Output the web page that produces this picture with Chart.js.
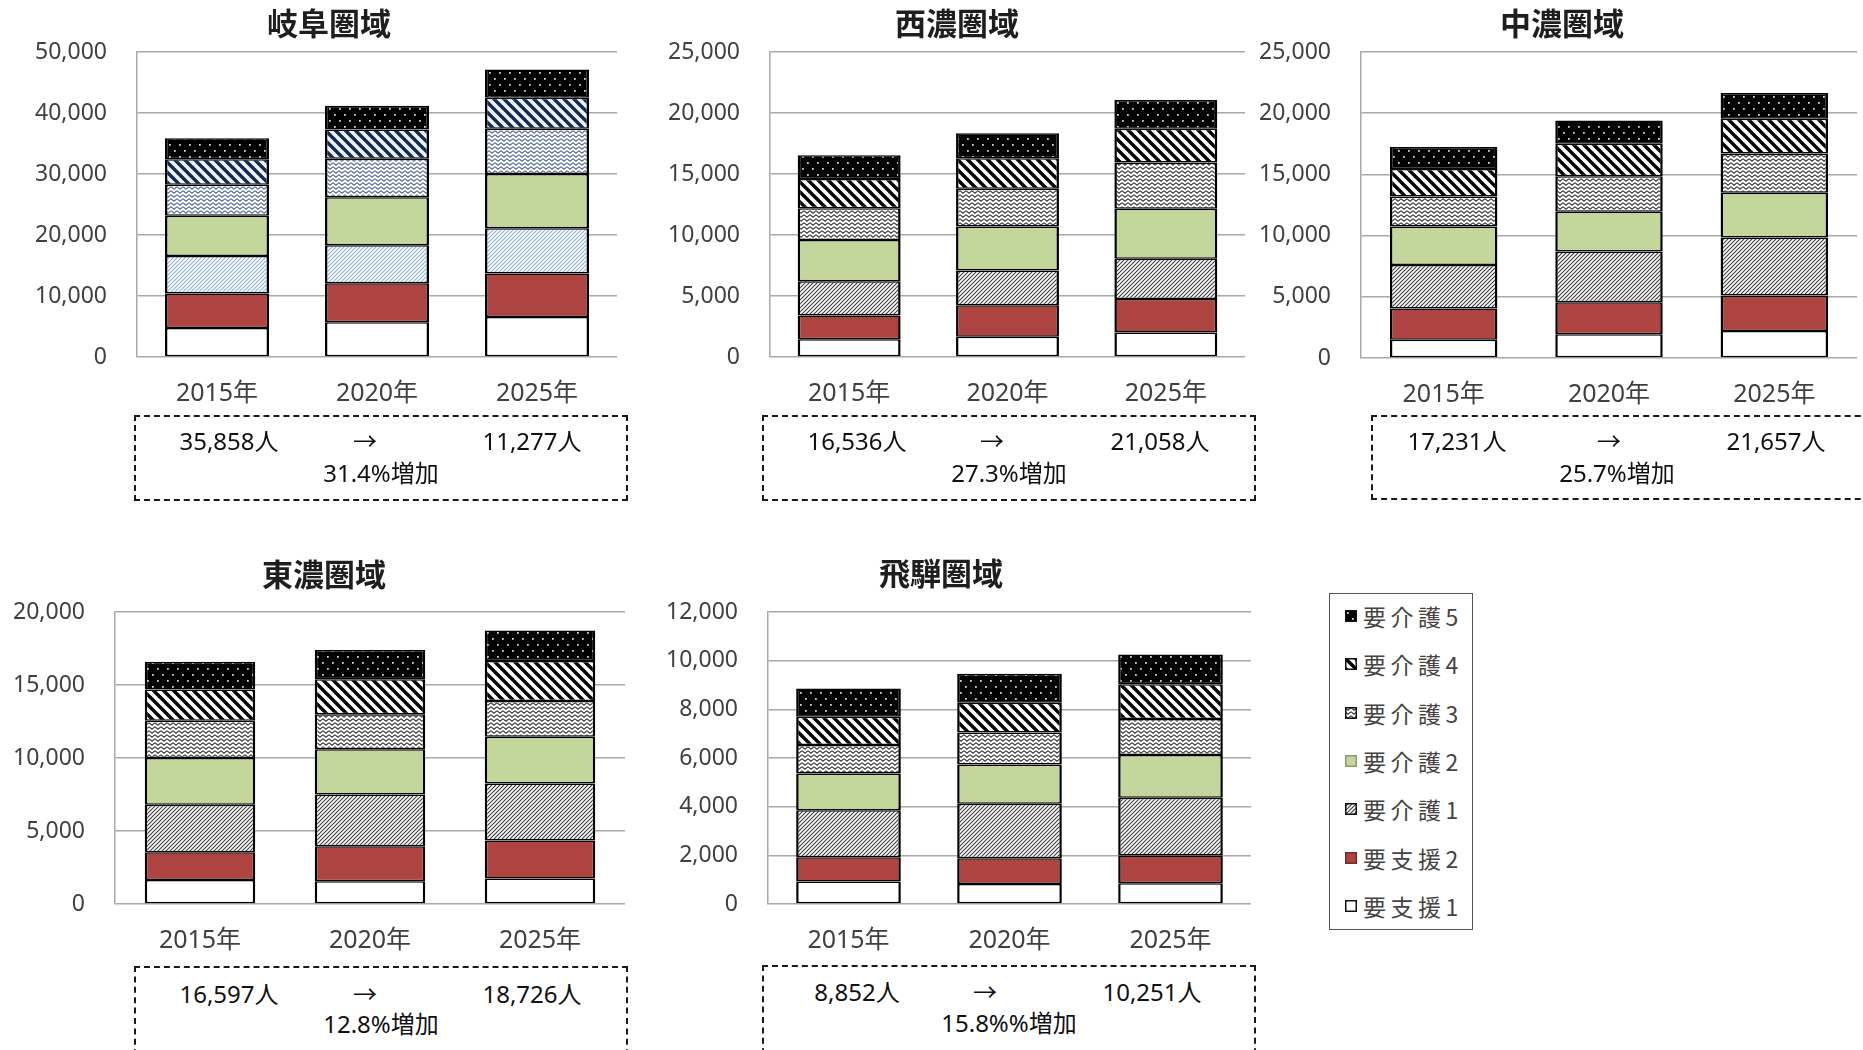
<!DOCTYPE html>
<html lang="ja">
<head>
<meta charset="utf-8">
<title>圏域別 要介護（要支援）認定者数の推移</title>
<script src="https://cdn.jsdelivr.net/npm/chart.js@4.4.1/dist/chart.umd.min.js"></script>
<style>
  html, body { margin: 0; padding: 0; background: #fff; }
  body { width: 1863px; height: 1050px; position: relative; overflow: hidden;
         font-family: "Noto Sans", "Noto Sans CJK JP", sans-serif; }
  canvas.plot { position: absolute; }
  .title { position: absolute; transform: translate(-50%, -50%); white-space: nowrap;
           font-family: "Noto Sans CJK JP", sans-serif; font-weight: 700; font-size: 31px; color: #1e1e1e; }
  .box { position: absolute; box-sizing: border-box; border: 2px dashed #1a1a1a; }
  .note { position: absolute; transform: translate(-50%, -50%); white-space: nowrap;
          font-family: "Noto Sans", "Noto Sans CJK JP", sans-serif; font-size: 24px; color: #111; }
  .legend { position: absolute; left: 1329px; top: 593px; width: 144px; height: 337px;
            box-sizing: border-box; border: 1.5px solid #555; background: #fff; }
  .legend .item { position: absolute; left: 0; display: flex; align-items: center; transform: translateY(-50%); }
  .legend canvas { display: block; margin-left: 15px; margin-right: 6px; }
  .legend span { font-family: "Noto Sans CJK JP", sans-serif; font-weight: 400; font-size: 23px;
                 letter-spacing: 4.5px; color: #444; white-space: nowrap; }
</style>
</head>
<body>
<script>
// ---- data -------------------------------------------------------------
const years = ['2015年', '2020年', '2025年'];
const careLevels = ['要支援1', '要支援2', '要介護1', '要介護2', '要介護3', '要介護4', '要介護5'];
const regionNames = ['岐阜圏域', '西濃圏域', '中濃圏域', '東濃圏域', '飛騨圏域'];

// 認定者数（人）  rows: careLevels, columns: years
const gifuCounts = [
  [4750, 5700, 6550],
  [5650, 6400, 7150],
  [6150, 6200, 7400],
  [6600, 7900, 8900],
  [5100, 6300, 7400],
  [4150, 4800, 5100],
  [3458, 3900, 4620]
];
const seinoCounts = [
  [1450, 1650, 2000],
  [1950, 2600, 2750],
  [2800, 2850, 3300],
  [3400, 3600, 4100],
  [2600, 3100, 3800],
  [2400, 2500, 2750],
  [1936, 2050, 2358]
];
const chunoCounts = [
  [1500, 1950, 2200],
  [2550, 2600, 2900],
  [3550, 4150, 4750],
  [3150, 3250, 3650],
  [2450, 2900, 3200],
  [2250, 2650, 2850],
  [1781, 1900, 2107]
];
const tonoCounts = [
  [1650, 1550, 1750],
  [1900, 2400, 2600],
  [3250, 3550, 3900],
  [3200, 3100, 3200],
  [2550, 2400, 2450],
  [2150, 2400, 2750],
  [1897, 2000, 2076]
];
const hidaCounts = [
  [920, 820, 850],
  [1000, 1060, 1140],
  [1930, 2240, 2380],
  [1510, 1610, 1750],
  [1170, 1320, 1480],
  [1170, 1220, 1430],
  [1152, 1190, 1221]
];

const axisMax = [50000, 25000, 25000, 20000, 12000];
const axisStep = [10000, 5000, 5000, 5000, 2000];

const fromTotals = ['35,858人', '16,536人', '17,231人', '16,597人', '8,852人'];
const toTotals = ['11,277人', '21,058人', '21,657人', '18,726人', '10,251人'];
const growthTexts = ['31.4%増加', '27.3%増加', '25.7%増加', '12.8%増加', '15.8%%増加'];

// ---- layout (page pixels) -----------------------------------------------
const regionCounts = [gifuCounts, seinoCounts, chunoCounts, tonoCounts, hidaCounts];
const panels = [
  { plot: { l: 137, r: 617, t: 52, b: 357 }, title: [329, 21], box: [134, 415, 494, 86],
    notes: [[229, 439], [365, 439], [532, 439], [381, 471]], tint: true },
  { plot: { l: 770, r: 1245, t: 52, b: 357 }, title: [957, 21], box: [762, 415, 494, 86],
    notes: [[857, 439], [992, 439], [1160, 439], [1009, 471]] },
  { plot: { l: 1361, r: 1857, t: 52, b: 358 }, title: [1562, 21], box: [1371, 415, 520, 85],
    notes: [[1457, 439], [1609, 439], [1776, 439], [1617, 471]] },
  { plot: { l: 115, r: 625, t: 612, b: 904 }, title: [324, 572], box: [134, 966, 494, 110],
    notes: [[229, 992], [365, 992], [532, 992], [381, 1022]] },
  { plot: { l: 768, r: 1251, t: 612, b: 904 }, title: [941, 571], box: [762, 965, 494, 110],
    notes: [[857, 990], [985, 990], [1152, 990], [1009, 1021]] }
];

// ---- fills --------------------------------------------------------------
function tile(w, h, paint) {
  const c = document.createElement('canvas');
  c.width = w; c.height = h;
  paint(c.getContext('2d'));
  return c;
}
function dotsTile() {
  return tile(10, 12, g => {
    g.fillStyle = '#000'; g.fillRect(0, 0, 10, 12);
    g.fillStyle = '#d0d0d0';
    g.fillRect(2, 2, 1.8, 1.8); g.fillRect(7, 8, 1.8, 1.8);
  });
}
function wideStripeTile(line, bg) {
  return tile(10, 10, g => {
    g.fillStyle = bg; g.fillRect(0, 0, 10, 10);
    g.strokeStyle = line; g.lineWidth = 3.4; g.lineCap = 'square';
    for (const k of [-10, 0, 10]) { g.beginPath(); g.moveTo(k - 2, -2); g.lineTo(k + 12, 12); g.stroke(); }
  });
}
function waveTile(line) {
  return tile(6, 4, g => {
    g.fillStyle = '#fff'; g.fillRect(0, 0, 6, 4);
    g.strokeStyle = line; g.lineWidth = 1.25;
    g.beginPath(); g.moveTo(0, 0.7); g.lineTo(3, 3.2); g.lineTo(6, 0.7); g.stroke();
  });
}
function fineStripeTile(line) {
  return tile(4, 4, g => {
    g.fillStyle = '#fff'; g.fillRect(0, 0, 4, 4);
    g.strokeStyle = line; g.lineWidth = 1.1;
    for (const k of [-4, 0, 4]) { g.beginPath(); g.moveTo(k - 1, 5); g.lineTo(k + 5, -1); g.stroke(); }
  });
}
function fillSet(ctx, tint) {
  const pat = t => ctx.createPattern(t, 'repeat');
  return [
    '#ffffff',
    '#ad4441',
    pat(fineStripeTile(tint ? '#8fb0da' : '#3a3a3a')),
    '#c3d69b',
    pat(waveTile(tint ? '#5d749e' : '#444444')),
    pat(wideStripeTile(tint ? '#142a52' : '#000000', tint ? '#eef4fb' : '#ffffff')),
    pat(dotsTile())
  ];
}

// keep the plot rectangle fixed: no extra room for overflowing tick labels
function noScalePadding(s) {
  s.paddingTop = 0; s.paddingBottom = 0; s.paddingLeft = 0; s.paddingRight = 0;
}

// ---- charts -------------------------------------------------------------
const Y_AXIS_W = 140, PAD_TOP = 30, X_AXIS_H = 60, PAD_RIGHT = 4;

panels.forEach((p, i) => {
  const left = p.plot.l - Y_AXIS_W;
  const top = p.plot.t - PAD_TOP;
  const W = p.plot.r - left + PAD_RIGHT;
  const H = p.plot.b + X_AXIS_H - top;
  const cv = document.createElement('canvas');
  cv.className = 'plot';
  cv.width = W; cv.height = H;
  cv.style.left = left + 'px'; cv.style.top = top + 'px';
  cv.style.width = W + 'px'; cv.style.height = H + 'px';
  document.body.appendChild(cv);
  const fills = fillSet(cv.getContext('2d'), !!p.tint);

  new Chart(cv, {
    type: 'bar',
    data: {
      labels: years,
      datasets: careLevels.map((lv, k) => ({
        label: lv,
        data: regionCounts[i][k],
        backgroundColor: fills[k],
        borderColor: '#000',
        borderWidth: { top: 1.5, bottom: 1.5, left: 2.5, right: 2.5 },
        borderSkipped: false,
        barPercentage: 0.65,
        categoryPercentage: 1
      }))
    },
    options: {
      responsive: false,
      animation: false,
      devicePixelRatio: 1,
      layout: { padding: { top: PAD_TOP, right: PAD_RIGHT, left: 0, bottom: 0 } },
      plugins: { legend: { display: false }, tooltip: { enabled: false }, title: { display: false } },
      scales: {
        x: {
          stacked: true,
          grid: { display: false },
          border: { display: false },
          ticks: { padding: 14, color: '#404040',
                   font: { family: '"Noto Sans", "Noto Sans CJK JP", sans-serif', size: 25 } },
          afterFit: s => { s.height = X_AXIS_H; noScalePadding(s); }
        },
        y: {
          stacked: true,
          min: 0,
          max: axisMax[i],
          ticks: { stepSize: axisStep[i], padding: 30, color: '#404040',
                   font: { family: '"Noto Sans", sans-serif', size: 23 },
                   callback: v => v.toLocaleString('en-US') },
          grid: { color: '#a8a8a8', lineWidth: 1.5, drawTicks: false },
          border: { display: true, color: '#a8a8a8', width: 1.5 },
          afterFit: s => { s.width = Y_AXIS_W; noScalePadding(s); }
        }
      }
    }
  });

  // title
  const t = document.createElement('div');
  t.className = 'title';
  t.textContent = regionNames[i];
  t.style.left = p.title[0] + 'px'; t.style.top = p.title[1] + 'px';
  document.body.appendChild(t);

  // dashed summary box
  const b = document.createElement('div');
  b.className = 'box';
  b.style.left = p.box[0] + 'px'; b.style.top = p.box[1] + 'px';
  b.style.width = p.box[2] + 'px'; b.style.height = p.box[3] + 'px';
  document.body.appendChild(b);

  [fromTotals[i], '→', toTotals[i], growthTexts[i]].forEach((txt, n) => {
    const d = document.createElement('div');
    d.className = 'note';
    d.textContent = txt;
    d.style.left = p.notes[n][0] + 'px'; d.style.top = p.notes[n][1] + 'px';
    document.body.appendChild(d);
  });
});

// ---- shared legend ------------------------------------------------------
const legend = document.createElement('div');
legend.className = 'legend';
document.body.appendChild(legend);
const legendOrder = [6, 5, 4, 3, 2, 1, 0];
legendOrder.forEach((k, row) => {
  const item = document.createElement('div');
  item.className = 'item';
  item.style.top = (22 + row * 48.3) + 'px';
  const sw = document.createElement('canvas');
  sw.width = 12; sw.height = 12;
  const g = sw.getContext('2d');
  const fills = fillSet(g, false);
  g.fillStyle = fills[k];
  g.fillRect(0, 0, 12, 12);
  g.lineWidth = 1.5;
  g.strokeStyle = k === 3 ? '#8a9a70' : (k === 1 ? '#7a2a28' : '#111');
  g.strokeRect(0.75, 0.75, 10.5, 10.5);
  const label = document.createElement('span');
  label.textContent = careLevels[k];
  item.appendChild(sw);
  item.appendChild(label);
  legend.appendChild(item);
});
</script>
</body>
</html>
